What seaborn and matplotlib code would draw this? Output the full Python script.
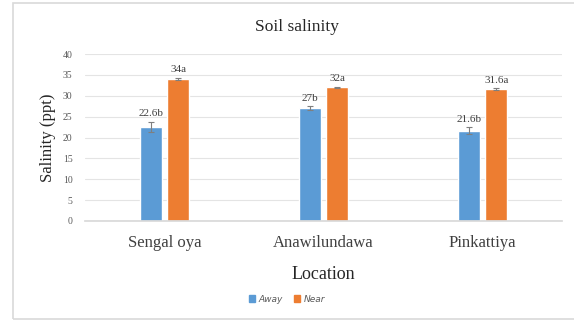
import matplotlib
matplotlib.use("Agg")
import matplotlib.pyplot as plt
import seaborn as sns
import pandas as pd
import numpy as np
from matplotlib.patches import Rectangle

# Data
locations = ["Sengal oya", "Anawilundawa", "Pinkattiya"]
away_vals = [22.6, 27.0, 21.6]
near_vals = [34.0, 32.0, 31.6]
away_err = [1.2, 0.5, 0.8]
near_err = [0.3, 0.2, 0.2]
away_labels = ["22.6b", "27b", "21.6b"]
near_labels = ["34a", "32a", "31.6a"]
series = ["Away", "Near"]
colors = ["#5B9BD5", "#ED7D31"]

df = pd.DataFrame({
    "Location": locations * 2,
    "Group": [series[0]] * 3 + [series[1]] * 3,
    "Salinity": away_vals + near_vals,
})

sns.set_theme(style="white")
plt.rcParams["font.family"] = ["Liberation Serif", "DejaVu Serif"]

fig = plt.figure(figsize=(5.74, 3.22), dpi=100)
fig.patch.set_facecolor("white")
# light frame around the chart area
fig.patches.append(Rectangle((13 / 574, 3 / 322), 1.2, 1 - 6 / 322,
                             transform=fig.transFigure, fill=False,
                             edgecolor="#d9d9d9", linewidth=1.2))

ax = fig.add_axes([85 / 574, 101 / 322, 477 / 574, 167 / 322])
sns.barplot(data=df, x="Location", y="Salinity", hue="Group",
            hue_order=series, palette=colors, width=0.35, gap=0.21,
            errorbar=None, saturation=1, legend=False, ax=ax)

ax.set_ylim(0, 40)
ax.set_xlim(-0.5, 2.5)
ax.set_yticks(np.arange(0, 41, 5))
ax.yaxis.grid(True, color="#e4e4e4", linewidth=0.8)
ax.set_axisbelow(True)
for s in ["top", "right", "left"]:
    ax.spines[s].set_visible(False)
ax.spines["bottom"].set_color("#d9d9d9")
ax.tick_params(axis="y", length=0, labelsize=7, labelcolor="#595959", pad=9)
ax.tick_params(axis="x", length=0, labelsize=12, labelcolor="#404040", pad=10)

# error bars and value labels at bar centres
bars = ax.patches
values = [away_vals, near_vals]
errs = [away_err, near_err]
labels = [away_labels, near_labels]
for gi in range(2):
    for li in range(3):
        bar = bars[gi * 3 + li]
        xc = bar.get_x() + bar.get_width() / 2
        v = values[gi][li]
        e = errs[gi][li]
        ax.errorbar(xc, v, yerr=e, fmt="none", ecolor="#7f7f7f",
                    elinewidth=0.8, capsize=2, capthick=0.8)
        ax.text(xc, v + e + 0.8, labels[gi][li], ha="center", va="bottom",
                fontsize=8, color="#404040")

ax.set_xlabel("Location", fontsize=13, color="#262626", labelpad=11)
ax.set_ylabel("Salinity (ppt)", fontsize=12, color="#262626", labelpad=5)
fig.text(297 / 574, 1 - 27 / 322, "Soil salinity", ha="center", va="center",
         fontsize=12.5, color="#262626")

# legend
handles = [Rectangle((0, 0), 1, 1, color=c) for c in colors]
fig.legend(handles, series, loc="center", bbox_to_anchor=(0.5, 1 - 299 / 322),
           ncol=2, frameon=False, handlelength=0.7,
           handleheight=0.7, columnspacing=1.2, handletextpad=0.4,
           prop={"family": "DejaVu Sans", "size": 6.5, "style": "italic"},
           labelcolor="#595959")

fig.savefig("out.png", dpi=100, facecolor="white")
